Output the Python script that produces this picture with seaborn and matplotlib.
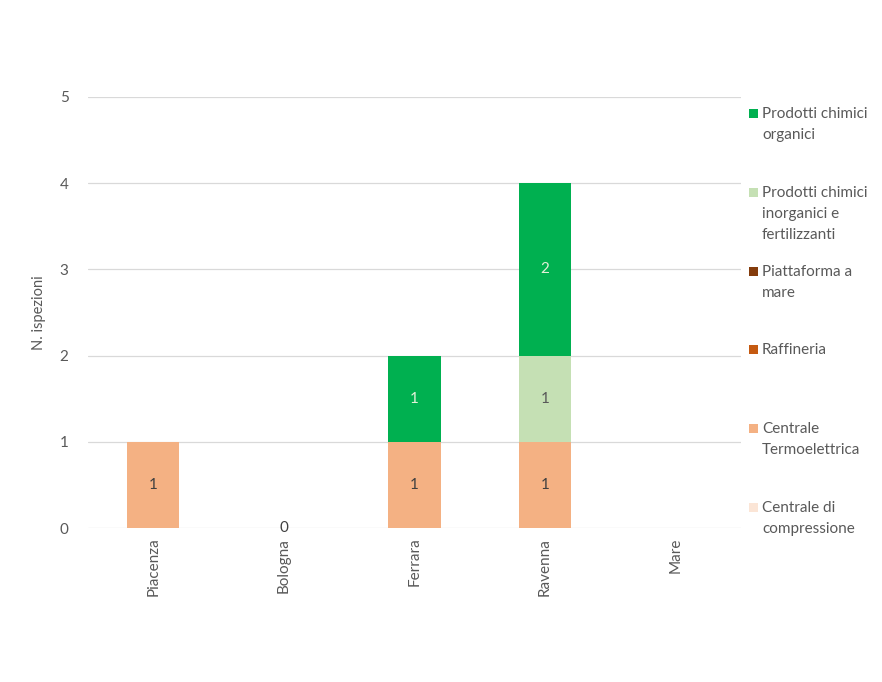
import pandas as pd
import matplotlib
matplotlib.use("Agg")
import matplotlib.pyplot as plt
from matplotlib.patches import Rectangle
import seaborn as sns

# Dati: ispezioni per provincia e tipo di impianto
citta = ["Piacenza", "Bologna", "Ferrara", "Ravenna", "Mare"]
settori = [
    "Prodotti chimici organici",
    "Prodotti chimici inorganici e fertilizzanti",
    "Piattaforma a mare",
    "Raffineria",
    "Centrale Termoelettrica",
    "Centrale di compressione",
]
etichette_legenda = [
    "Prodotti chimici\norganici",
    "Prodotti chimici\ninorganici e\nfertilizzanti",
    "Piattaforma a\nmare",
    "Raffineria",
    "Centrale\nTermoelettrica",
    "Centrale di\ncompressione",
]
organici = [None, None, 1, 2, None]
inorganici = [None, None, None, 1, None]
piattaforma = [None, None, None, None, None]
raffineria = [None, None, None, None, None]
termoelettrica = [1, 0, 1, 1, None]
compressione = [None, None, None, None, None]
valori = [organici, inorganici, piattaforma, raffineria, termoelettrica, compressione]

colori = ["#00B050", "#C5E0B4", "#843C0C", "#C55A11", "#F4B183", "#FBE5D6"]
colori_testo = ["#E2F0D9", "#595959", "#404040", "#404040", "#404040", "#404040"]

righe = []
for s, vals in zip(settori, valori):
    for c, v in zip(citta, vals):
        righe.append({"Città": c, "Settore": s, "n": 0 if v is None else v})
data = pd.DataFrame(righe)
data["Città"] = pd.Categorical(data["Città"], categories=citta, ordered=True)

sns.set_style("white")
plt.rcParams["font.family"] = ["Lato", "DejaVu Sans"]
grigio = "#595959"

fig = plt.figure(figsize=(8.82, 6.82), dpi=100)
ax = fig.add_axes([88 / 882, 1 - 528 / 682, 653 / 882, 431 / 682])

palette = dict(zip(settori, colori))
sns.histplot(data=data, x="Città", hue="Settore", weights="n", hue_order=settori,
             multiple="stack", shrink=0.4, palette=palette, alpha=1,
             linewidth=0, legend=False, ax=ax)

ax.set_xlim(-0.5, 4.5)
ax.set_ylim(0, 5)
ax.set_yticks(range(0, 6))
ax.yaxis.grid(True, color="#D9D9D9", linewidth=0.9)
ax.set_axisbelow(True)
for sp in ax.spines.values():
    sp.set_visible(False)
ax.tick_params(axis="both", length=0, colors=grigio, labelsize=11)
ax.tick_params(axis="y", pad=14)
ax.tick_params(axis="x", pad=7)
ax.set_xticks(range(len(citta)))
ax.set_xticklabels(citta, rotation=90)
ax.set_xlabel("")
ax.set_ylabel("N. ispezioni", color=grigio, fontsize=10.5)
ax.yaxis.set_label_coords(-42 / 653, 0.5)

# Etichette dei dati
basi = [0] * len(citta)
for i in reversed(range(len(settori))):
    for j, v in enumerate(valori[i]):
        if v is not None:
            ax.text(j, basi[j] + v / 2, str(v), ha="center", va="center",
                    color=colori_testo[i], fontsize=11)
            basi[j] += v

# Legenda
for i, (lab, col) in enumerate(zip(etichette_legenda, colori)):
    y_c = 1 - (113 + i * 78.8) / 682
    fig.patches.append(Rectangle((749 / 882, y_c - 5 / 682), 9 / 882, 9 / 682,
                                 transform=fig.transFigure, color=col, lw=0))
    fig.text(762 / 882, y_c + 6 / 682, lab, ha="left", va="top", color=grigio,
             fontsize=11, linespacing=1.65)

plt.savefig("out.png", dpi=100)
